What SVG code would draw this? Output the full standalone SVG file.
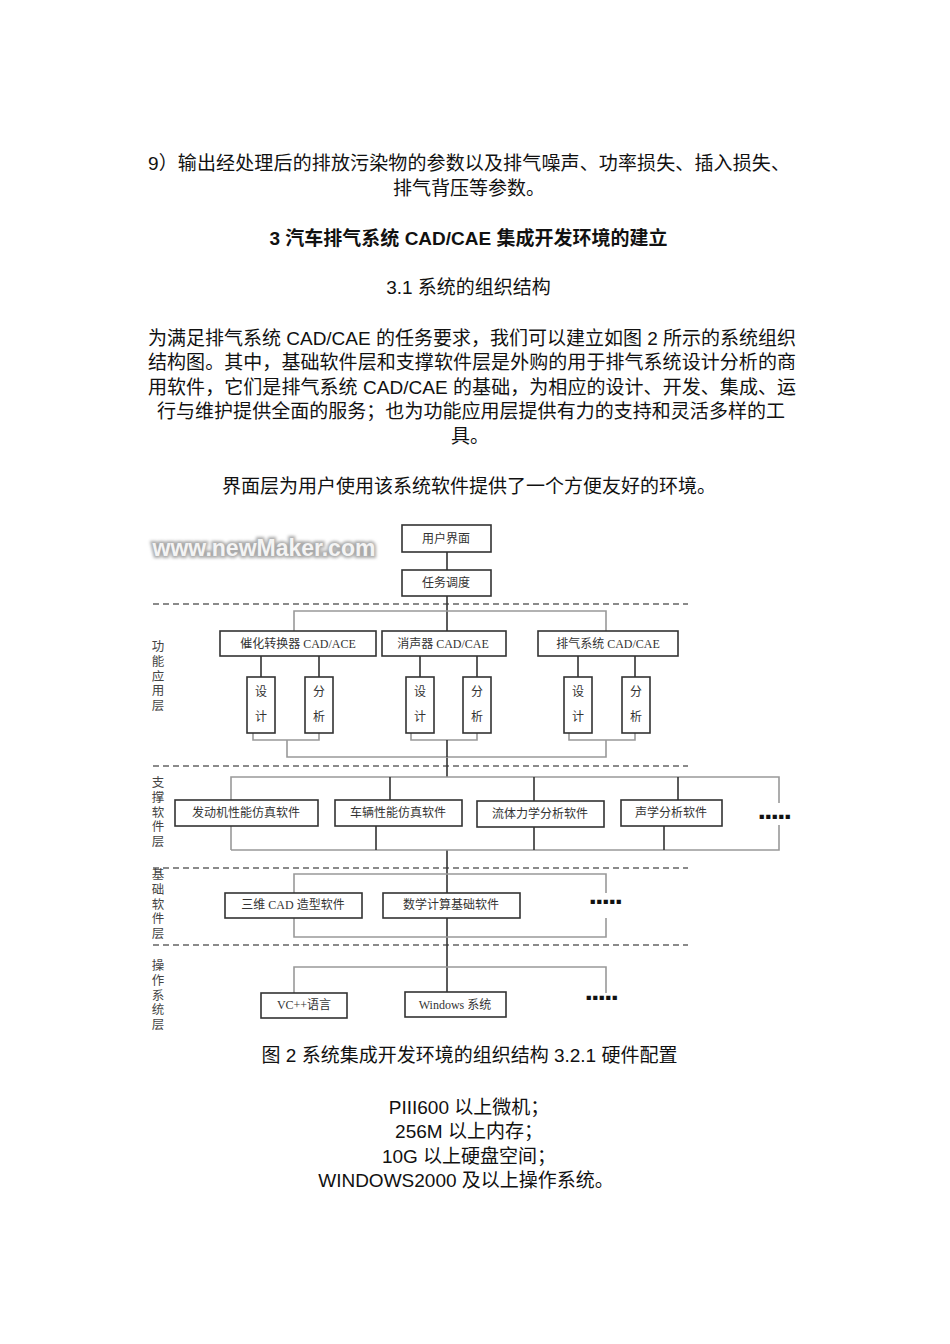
<svg xmlns="http://www.w3.org/2000/svg" width="950" height="1344" viewBox="0 0 950 1344">
<defs>
<style>
.body{font-family:"Liberation Sans","Noto Sans CJK SC",sans-serif;font-size:19px;fill:#111}
.c{text-anchor:middle}
.bold{font-weight:bold}
.box{fill:#fff;stroke:#333;stroke-width:1.6}
.lbl{font-family:"Liberation Serif","Noto Sans CJK SC",serif;font-size:12px;fill:#333;text-anchor:middle}
.side{font-family:"Noto Sans CJK SC",sans-serif;font-size:12.5px;fill:#444;writing-mode:vertical-rl;letter-spacing:2.3px}
.dash{stroke:#8a8a8a;stroke-width:2;stroke-dasharray:6 4;fill:none}
.g{stroke:#999;stroke-width:1.6;fill:none}
.d{stroke:#333;stroke-width:1.6;fill:none}
.dots{font-family:"Liberation Sans",sans-serif;font-size:17px;font-weight:bold;fill:#111;text-anchor:middle;letter-spacing:0.5px}
</style>
<filter id="blur" x="-10%" y="-30%" width="120%" height="160%"><feGaussianBlur stdDeviation="1.4"/></filter>
</defs>
<rect width="950" height="1344" fill="#fff"/>

<g id="text-top">
<text class="body" x="148" y="170" textLength="642" lengthAdjust="spacing">9）输出经处理后的排放污染物的参数以及排气噪声、功率损失、插入损失、</text>
<text class="body c" x="469" y="195">排气背压等参数。</text>
<text class="body c bold" x="468.5" y="245">3 汽车排气系统 CAD/CAE 集成开发环境的建立</text>
<text class="body c" x="468.5" y="294">3.1 系统的组织结构</text>
<text class="body" x="148" y="345" textLength="648" lengthAdjust="spacing">为满足排气系统 CAD/CAE 的任务要求，我们可以建立如图 2 所示的系统组织</text>
<text class="body" x="148" y="369" textLength="648" lengthAdjust="spacing">结构图。其中，基础软件层和支撑软件层是外购的用于排气系统设计分析的商</text>
<text class="body" x="148" y="394" textLength="648" lengthAdjust="spacing">用软件，它们是排气系统 CAD/CAE 的基础，为相应的设计、开发、集成、运</text>
<text class="body" x="157" y="418" textLength="628" lengthAdjust="spacing">行与维护提供全面的服务；也为功能应用层提供有力的支持和灵活多样的工</text>
<text class="body c" x="470" y="443">具。</text>
<text class="body c" x="469" y="493">界面层为用户使用该系统软件提供了一个方便友好的环境。</text>
</g>

<g id="watermark">
<text x="264" y="556" font-family="Liberation Sans,sans-serif" font-size="23" font-weight="bold" text-anchor="middle" fill="#999" filter="url(#blur)" stroke="#aaa" stroke-width="4">www.newMaker.com</text>
<text x="264" y="556" font-family="Liberation Sans,sans-serif" font-size="23" font-weight="bold" text-anchor="middle" fill="#f4f4f4">www.newMaker.com</text>
</g>

<g id="separators">
<line class="dash" x1="153" y1="604" x2="688" y2="604"/>
<line class="dash" x1="153" y1="766" x2="688" y2="766"/>
<line class="dash" x1="153" y1="868" x2="688" y2="868"/>
<line class="dash" x1="153" y1="945" x2="688" y2="945"/>
</g>

<g id="layer-labels">
<text class="side" x="158" y="640">功能应用层</text>
<text class="side" x="158" y="776">支撑软件层</text>
<text class="side" x="158" y="868">基础软件层</text>
<text class="side" x="158" y="959">操作系统层</text>
</g>

<g id="connectors">
<path class="d" d="M447 552V570M447 596V631M447 757V777M447 850V893M447 918V992"/>
<path class="g" d="M294 631V611H606V631"/>
<path class="d" d="M261 656V677M319 656V677M420 656V677M477 656V677M578 656V677M635 656V677"/>
<path class="g" d="M253 733V740H319V733M411 733V740H477V733M569 733V740H635V733"/>
<path class="g" d="M287 740V757H606V740"/>
<path class="d" d="M447 740V757"/>
<path class="g" d="M231 850V777H779V803M779 825V850H231"/>
<path class="d" d="M390 777V800M534 777V801M678 777V800M376 826V850M534 827V850M664 826V850"/>
<path class="g" d="M294 893V874H606V893M606 918V937H294V918"/>
<path class="g" d="M294 993V967H606V993"/>
</g>

<g id="n-ui"><rect class="box" x="402" y="525" width="89" height="27"/><text class="lbl" x="446" y="543">用户界面</text></g>
<g id="n-task"><rect class="box" x="402" y="570" width="89" height="26"/><text class="lbl" x="446" y="587">任务调度</text></g>

<g id="n-cat"><rect class="box" x="220" y="631" width="156" height="25"/><text class="lbl" x="298" y="648">催化转换器 CAD/ACE</text></g>
<g id="n-muf"><rect class="box" x="382" y="631" width="124" height="25"/><text class="lbl" x="443" y="648">消声器 CAD/CAE</text></g>
<g id="n-exh"><rect class="box" x="538" y="631" width="140" height="25"/><text class="lbl" x="608" y="648">排气系统 CAD/CAE</text></g>

<g id="n-cat-design"><rect class="box" x="247" y="677" width="28" height="56"/><text class="lbl"><tspan x="261" y="696">设</tspan><tspan x="261" y="721">计</tspan></text></g>
<g id="n-cat-analysis"><rect class="box" x="305" y="677" width="28" height="56"/><text class="lbl"><tspan x="319" y="696">分</tspan><tspan x="319" y="721">析</tspan></text></g>
<g id="n-muf-design"><rect class="box" x="406" y="677" width="28" height="56"/><text class="lbl"><tspan x="420" y="696">设</tspan><tspan x="420" y="721">计</tspan></text></g>
<g id="n-muf-analysis"><rect class="box" x="463" y="677" width="28" height="56"/><text class="lbl"><tspan x="477" y="696">分</tspan><tspan x="477" y="721">析</tspan></text></g>
<g id="n-exh-design"><rect class="box" x="564" y="677" width="28" height="56"/><text class="lbl"><tspan x="578" y="696">设</tspan><tspan x="578" y="721">计</tspan></text></g>
<g id="n-exh-analysis"><rect class="box" x="622" y="677" width="28" height="56"/><text class="lbl"><tspan x="636" y="696">分</tspan><tspan x="636" y="721">析</tspan></text></g>

<g id="n-engine"><rect class="box" x="175" y="800" width="143" height="26"/><text class="lbl" x="246" y="817">发动机性能仿真软件</text></g>
<g id="n-vehicle"><rect class="box" x="335" y="800" width="127" height="26"/><text class="lbl" x="398" y="817">车辆性能仿真软件</text></g>
<g id="n-cfd"><rect class="box" x="477" y="801" width="127" height="26"/><text class="lbl" x="540" y="818">流体力学分析软件</text></g>
<g id="n-acoustic"><rect class="box" x="621" y="800" width="101" height="26"/><text class="lbl" x="671" y="817">声学分析软件</text></g>
<g id="n-support-more"><text class="dots" x="775" y="822">▪▪▪▪▪</text></g>

<g id="n-cad3d"><rect class="box" x="225" y="893" width="137" height="25"/><text class="lbl" x="293" y="909">三维 CAD 造型软件</text></g>
<g id="n-math"><rect class="box" x="383" y="893" width="137" height="25"/><text class="lbl" x="451" y="909">数学计算基础软件</text></g>
<g id="n-base-more"><text class="dots" x="606" y="907">▪▪▪▪▪</text></g>

<g id="n-vc"><rect class="box" x="261" y="993" width="86" height="25"/><text class="lbl" x="304" y="1009">VC++语言</text></g>
<g id="n-win"><rect class="box" x="405" y="992" width="101" height="25"/><text class="lbl" x="455" y="1009">Windows 系统</text></g>
<g id="n-os-more"><text class="dots" x="602" y="1003">▪▪▪▪▪</text></g>

<g id="text-bottom">
<text class="body c" x="469.5" y="1062">图 2 系统集成开发环境的组织结构 3.2.1 硬件配置</text>
<text class="body c" x="469" y="1114">PIII600 以上微机；</text>
<text class="body c" x="469" y="1138">256M 以上内存；</text>
<text class="body c" x="469" y="1163">10G 以上硬盘空间；</text>
<text class="body c" x="466" y="1187">WINDOWS2000 及以上操作系统。</text>
</g>
</svg>
